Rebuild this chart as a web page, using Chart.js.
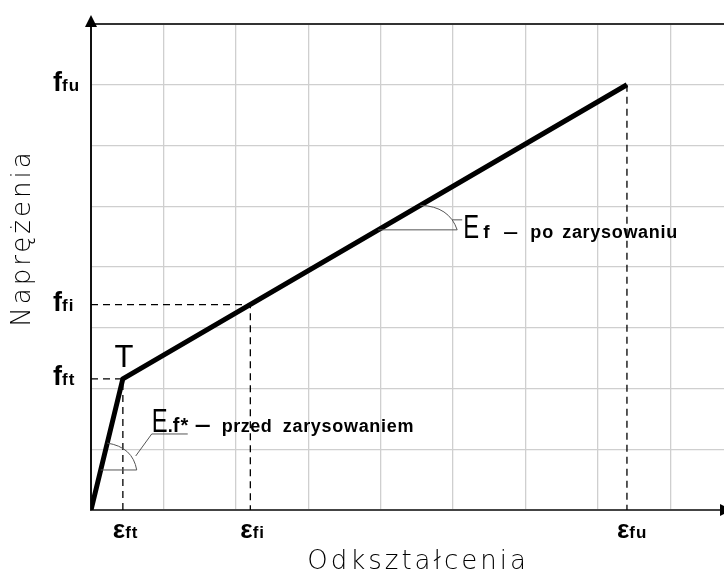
<!DOCTYPE html>
<html>
<head>
<meta charset="utf-8">
<script src="https://cdn.jsdelivr.net/npm/chart.js@4.4.0/dist/chart.umd.min.js"></script>
<style>
  html, body { margin: 0; padding: 0; background: #fff; }
  #wrap { width: 724px; height: 577px; }
</style>
</head>
<body>
<div id="wrap"><canvas id="wykres" width="724" height="577"></canvas></div>
<script>
// Wykres naprężenie - odkształcenie (dwuliniowy), jednostki = oczka siatki
const curveStrain = [0, 0.44, 7.4];
const curveStress = [0, 2.16, 7.0];

// punkty charakterystyczne: ft, fi, fu
const pointNames = ["ft", "fi", "fu"];
const pointStrain = [0.44, 2.2, 7.4];
const pointStress = [2.16, 3.38, 7.0];
const horizGuide = [true, true, false];

const xMax = 8.74;
const yMax = 8;

const BOLD = "'Liberation Sans', Arial, sans-serif";
const THIN = "'DejaVu Sans', sans-serif";

// Prowadnice kreskowane
const guideSets = pointNames.map((n, i) => {
  const pts = [];
  if (horizGuide[i]) pts.push({ x: 0, y: pointStress[i] });
  pts.push({ x: pointStrain[i], y: pointStress[i] });
  pts.push({ x: pointStrain[i], y: 0 });
  return {
    label: "guide " + n,
    data: pts,
    borderColor: "#000",
    borderWidth: 1.3,
    borderDash: [7, 5],
    pointRadius: 0,
    order: 2
  };
});

// tekst z częściami o różnych czcionkach; "at" = przesunięcie od początku
function drawRich(ctx, parts, x, base) {
  let cx = x;
  parts.forEach(p => {
    ctx.save();
    ctx.font = p.font;
    ctx.letterSpacing = p.ls || "0px";
    const sx = p.sx || 1;
    const px = p.at !== undefined ? x + p.at : cx;
    ctx.translate(px, base);
    ctx.scale(sx, 1);
    ctx.fillText(p.t, 0, 0);
    cx = px + ctx.measureText(p.t).width * sx;
    ctx.restore();
  });
}

const decor = {
  id: "decor",
  afterDraw(chart) {
    const { ctx, chartArea: a, scales: { x, y } } = chart;
    ctx.save();
    ctx.fillStyle = "#000";
    ctx.textBaseline = "alphabetic";
    ctx.textAlign = "left";

    // strzałki osi
    ctx.beginPath();
    ctx.moveTo(a.left, a.top - 9);
    ctx.lineTo(a.left - 6, a.top + 3);
    ctx.lineTo(a.left + 6, a.top + 3);
    ctx.closePath();
    ctx.fill();
    ctx.beginPath();
    ctx.moveTo(a.right + 8, a.bottom);
    ctx.lineTo(a.right - 4, a.bottom - 6);
    ctx.lineTo(a.right - 4, a.bottom + 6);
    ctx.closePath();
    ctx.fill();

    // etykiety naprężeń i odkształceń
    pointNames.forEach((n, i) => {
      const py = y.getPixelForValue(pointStress[i]);
      drawRich(ctx, [
        { t: "f", font: "bold 27px " + BOLD },
        { t: n, font: "bold 17px " + BOLD, ls: "1px" }
      ], 53, py + 6);
      const px = x.getPixelForValue(pointStrain[i]);
      drawRich(ctx, [
        { t: "ε", font: "bold 26px " + BOLD },
        { t: n, font: "bold 17px " + BOLD, ls: "1px" }
      ], px - 10, 538);
    });

    // punkt T
    const tx = x.getPixelForValue(curveStrain[1]);
    const ty = y.getPixelForValue(curveStress[1]);
    ctx.font = "31px " + BOLD;
    ctx.textAlign = "center";
    ctx.fillText("T", tx + 1, ty - 12);
    ctx.textAlign = "left";

    // punkty na odcinkach wykresu
    const seg = (k, t) => {
      const x0 = x.getPixelForValue(curveStrain[k]), y0 = y.getPixelForValue(curveStress[k]);
      const x1 = x.getPixelForValue(curveStrain[k + 1]), y1 = y.getPixelForValue(curveStress[k + 1]);
      return { x: x0 + (x1 - x0) * t, y: y0 + (y1 - y0) * t };
    };

    ctx.strokeStyle = "#555";
    ctx.lineWidth = 1;

    // kąt Ef - po zarysowaniu
    let h = seg(1, 0.5065), s = seg(1, 0.59);
    let e = { x: h.x + 79, y: h.y };
    ctx.beginPath();
    ctx.moveTo(h.x, h.y); ctx.lineTo(e.x, e.y);
    ctx.moveTo(s.x, s.y); ctx.quadraticCurveTo(e.x - 8, s.y + 1, e.x, e.y);
    ctx.moveTo(e.x - 5, e.y - 10); ctx.lineTo(e.x + 5, e.y - 10);
    ctx.stroke();
    drawRich(ctx, [
      { t: "E", font: "34px " + BOLD, sx: 0.7, at: 0 },
      { t: "f", font: "bold 19px " + BOLD, at: 20 },
      { t: "–", font: "bold 19px " + BOLD, sx: 1.4, at: 40 },
      { t: "po", font: "bold 18px " + BOLD, ls: "1px", at: 67 },
      { t: "zarysowaniu", font: "bold 18px " + BOLD, ls: "0.7px", at: 99 }
    ], e.x + 6, e.y + 8);

    // kąt Ef* - przed zarysowaniem
    h = seg(0, 0.305); s = seg(0, 0.51);
    e = { x: h.x + 36, y: h.y };
    ctx.beginPath();
    ctx.moveTo(h.x, h.y); ctx.lineTo(e.x, e.y);
    ctx.moveTo(s.x, s.y); ctx.quadraticCurveTo(e.x - 4, s.y + 4, e.x, e.y);
    ctx.moveTo(e.x - 1, e.y - 14); ctx.lineTo(e.x + 15, e.y - 36);
    ctx.lineTo(e.x + 51, e.y - 36);
    ctx.stroke();
    drawRich(ctx, [
      { t: "E", font: "34px " + BOLD, sx: 0.7, at: 0 },
      { t: ".", font: "bold 18px " + BOLD, at: 16 },
      { t: "f*", font: "bold 20px " + BOLD, ls: "1px", at: 21 },
      { t: "–", font: "bold 22px " + BOLD, sx: 1.3, at: 43 },
      { t: "przed", font: "bold 18px " + BOLD, ls: "0.5px", at: 70 },
      { t: "zarysowaniem", font: "bold 18px " + BOLD, ls: "0.7px", at: 131 }
    ], e.x + 15, e.y - 38);

    // tytuły osi
    ctx.font = "200 26px " + THIN;
    ctx.letterSpacing = "3px";
    ctx.textAlign = "center";
    ctx.textBaseline = "middle";
    ctx.fillText("Odkształcenia", 418, 562);
    ctx.translate(23, 238);
    ctx.rotate(-Math.PI / 2);
    ctx.fillText("Naprężenia", 0, 0);
    ctx.restore();
  }
};

new Chart(document.getElementById("wykres"), {
  type: "line",
  data: {
    datasets: [{
      label: "sigma-epsilon",
      data: curveStrain.map((v, i) => ({ x: v, y: curveStress[i] })),
      borderColor: "#000",
      borderWidth: 5,
      pointRadius: 0,
      order: 1
    }, ...guideSets]
  },
  options: {
    responsive: false,
    devicePixelRatio: 1,
    animation: false,
    layout: { padding: { left: 91, right: 0, top: 24, bottom: 67 } },
    plugins: { legend: { display: false }, tooltip: { enabled: false } },
    scales: {
      x: {
        type: "linear",
        min: 0,
        max: xMax,
        afterBuildTicks: sc => { sc.ticks = sc.ticks.filter(t => Number.isInteger(t.value)); },
        ticks: { stepSize: 1, display: false },
        grid: {
          drawTicks: false,
          color: c => c.tick && c.tick.value === 0 ? "rgba(0,0,0,0)" : "#cfcfcf",
          lineWidth: 1.3
        },
        border: { display: true, color: "#444", width: 2 }
      },
      y: {
        min: 0,
        max: yMax,
        ticks: { stepSize: 1, display: false },
        grid: {
          drawTicks: false,
          color: c => !c.tick ? "#cfcfcf" : c.tick.value === yMax ? "#333" : c.tick.value === 0 ? "rgba(0,0,0,0)" : "#cfcfcf",
          lineWidth: c => c.tick && c.tick.value === yMax ? 2 : 1.3
        },
        border: { display: true, color: "#111", width: 2 }
      }
    }
  },
  plugins: [decor]
});
</script>
</body>
</html>
